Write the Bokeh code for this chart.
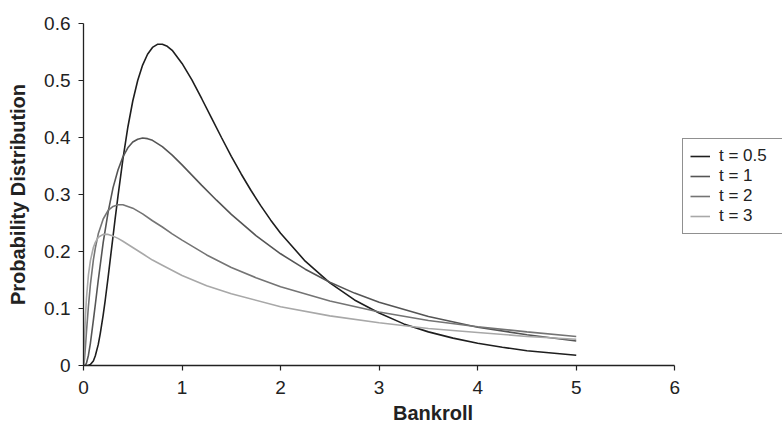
from bokeh.plotting import figure
from bokeh.models import Range1d, FixedTicker, Legend, LegendItem
from bokeh.embed import file_html
from bokeh.resources import INLINE

# ---- data ----
x_t05 = [0, 0.05, 0.07, 0.1, 0.12, 0.15, 0.17, 0.2, 0.22, 0.25, 0.27, 0.3, 0.32, 0.35, 0.4, 0.45,
         0.5, 0.55, 0.6, 0.65, 0.7, 0.75, 0.8, 0.85, 0.9, 1.0, 1.1, 1.2, 1.3, 1.4, 1.5, 1.6, 1.7,
         1.8, 1.9, 2.0, 2.25, 2.5, 2.75, 3.0, 3.25, 3.5, 3.75, 4.0, 4.25, 4.5, 5.0]
y_t05 = [0, 0.0003, 0.0017, 0.008, 0.017, 0.037, 0.056, 0.089, 0.114, 0.155, 0.184, 0.227, 0.256, 0.297, 0.362, 0.418,
         0.464, 0.500, 0.527, 0.546, 0.558, 0.5635, 0.5637, 0.560, 0.553, 0.530, 0.501, 0.468, 0.434, 0.400, 0.367, 0.336, 0.307,
         0.280, 0.255, 0.232, 0.183, 0.145, 0.115, 0.092, 0.073, 0.059, 0.048, 0.039, 0.032, 0.026, 0.018]

x_t1 = [0, 0.02, 0.03, 0.05, 0.07, 0.1, 0.12, 0.15, 0.2, 0.25, 0.3, 0.35, 0.4, 0.45, 0.5, 0.55, 0.6,
        0.65, 0.7, 0.8, 0.9, 1.0, 1.1, 1.2, 1.35, 1.5, 1.75, 2.0, 2.25, 2.5, 2.75, 3.0, 3.5, 4.0, 4.5, 5.0]
y_t1 = [0, 0.001, 0.004, 0.018, 0.039, 0.079, 0.107, 0.150, 0.216, 0.269, 0.312, 0.343, 0.366, 0.382, 0.392, 0.397, 0.399,
        0.398, 0.395, 0.384, 0.369, 0.352, 0.334, 0.316, 0.290, 0.265, 0.228, 0.196, 0.169, 0.146, 0.127, 0.111, 0.086, 0.067, 0.054, 0.043]

x_t2 = [0, 0.01, 0.02, 0.03, 0.05, 0.07, 0.1, 0.12, 0.15, 0.2, 0.25, 0.3, 0.35, 0.4, 0.5, 0.6, 0.7,
        0.8, 0.9, 1.0, 1.25, 1.5, 1.75, 2.0, 2.5, 3.0, 3.5, 4.0, 4.5, 5.0]
y_t2 = [0, 0.011, 0.034, 0.059, 0.104, 0.142, 0.185, 0.206, 0.231, 0.257, 0.272, 0.279, 0.282, 0.282, 0.276, 0.266, 0.254,
        0.243, 0.231, 0.220, 0.194, 0.172, 0.154, 0.138, 0.113, 0.094, 0.079, 0.068, 0.059, 0.051]

x_t3 = [0, 0.005, 0.01, 0.02, 0.03, 0.05, 0.07, 0.1, 0.12, 0.15, 0.2, 0.25, 0.3, 0.35, 0.4, 0.5, 0.6,
        0.7, 0.8, 1.0, 1.25, 1.5, 2.0, 2.5, 3.0, 3.5, 4.0, 4.5, 5.0]
y_t3 = [0, 0.021, 0.046, 0.087, 0.118, 0.159, 0.184, 0.207, 0.216, 0.225, 0.230, 0.230, 0.227, 0.223, 0.218, 0.207, 0.196,
        0.185, 0.176, 0.158, 0.140, 0.126, 0.103, 0.087, 0.075, 0.065, 0.058, 0.051, 0.046]

series_labels = ["t = 0.5", "t = 1", "t = 2", "t = 3"]
series_colors = ["#1e1e1e", "#555555", "#747474", "#a8a8a8"]

x_ticks = [0, 1, 2, 3, 4, 5, 6]
y_ticks = [0, 0.1, 0.2, 0.3, 0.4, 0.5, 0.6]
y_tick_labels = ["0", "0.1", "0.2", "0.3", "0.4", "0.5", "0.6"]

FONT = "Liberation Sans"

# frame runs to the right edge so the legend box fits inside it; x axis drawn only 0..6
p = figure(width=782, height=426, output_backend="svg", toolbar_location=None,
           x_range=Range1d(0, 7.093), y_range=Range1d(0, 0.6),
           min_border_left=83, min_border_right=0, min_border_top=23, min_border_bottom=61)
p.outline_line_color = None
p.xgrid.visible = False
p.ygrid.visible = False
p.background_fill_color = "white"

renderers = []
for xs, ys, col in zip([x_t05, x_t1, x_t2, x_t3], [y_t05, y_t1, y_t2, y_t3], series_colors):
    r = p.line(xs, ys, line_color=col, line_width=1.6)
    renderers.append(r)

p.xaxis.ticker = FixedTicker(ticks=x_ticks)
p.yaxis.ticker = FixedTicker(ticks=y_ticks)
p.xaxis.bounds = (x_ticks[0], x_ticks[-1])
p.yaxis.major_label_overrides = {t: l for t, l in zip(y_ticks, y_tick_labels)}

for ax in (p.xaxis[0], p.yaxis[0]):
    ax.axis_line_color = "#222222"
    ax.axis_line_width = 1.3
    ax.major_tick_line_color = "#222222"
    ax.major_tick_line_width = 1.2
    ax.major_tick_out = 5
    ax.major_tick_in = 0
    ax.minor_tick_line_color = None
    ax.major_label_text_font = FONT
    ax.major_label_text_font_size = "19px"
    ax.major_label_text_color = "#222222"
    ax.axis_label_text_font = FONT
    ax.axis_label_text_font_size = "20px"
    ax.axis_label_text_font_style = "bold"
    ax.axis_label_text_color = "#222222"

p.xaxis.major_label_standoff = 10
p.yaxis.major_label_standoff = 8
p.xaxis.axis_label = "Bankroll"
p.yaxis.axis_label = "Probability Distribution"
p.xaxis.axis_label_standoff = 5
p.yaxis.axis_label_standoff = 12

legend = Legend(items=[LegendItem(label=l, renderers=[r]) for l, r in zip(series_labels, renderers)],
                location=(599, 131))
legend.border_line_color = "#222222"
legend.border_line_width = 1
legend.background_fill_color = "white"
legend.background_fill_alpha = 1
legend.label_text_font = FONT
legend.label_text_font_size = "17px"
legend.label_text_color = "#222222"
legend.glyph_width = 20
legend.glyph_height = 18
legend.label_height = 18
legend.label_width = 62
legend.spacing = 0
legend.padding = 7
legend.margin = 0
legend.label_standoff = 9
p.add_layout(legend)

open("out.html", "w").write(file_html(p, INLINE))
